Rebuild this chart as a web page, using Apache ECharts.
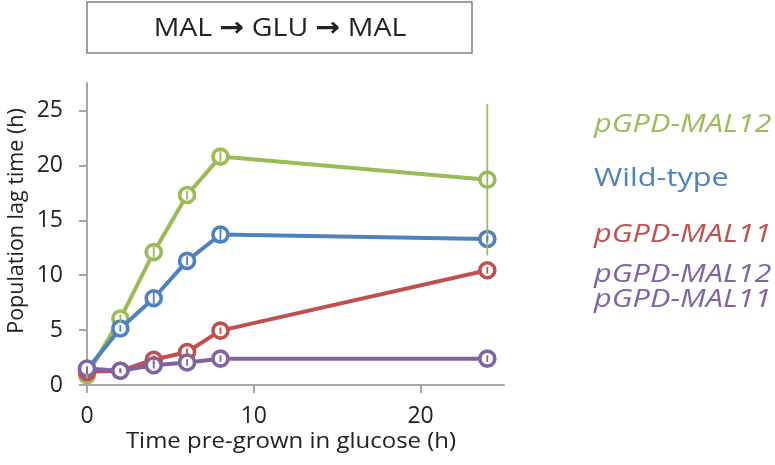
<!DOCTYPE html>
<html><head><meta charset="utf-8">
<script src="https://cdn.jsdelivr.net/npm/echarts@6/dist/echarts.min.js"></script>
<style>html,body{margin:0;padding:0;background:#fff}#c{width:775px;height:465px}</style>
</head><body><div id="c"></div>
<script>
const times = [0, 2, 4, 6, 8, 24];
const greenVals = [0.9, 6.05, 12.1, 17.3, 20.8, 18.7];
const greenErr = [0.3, 0.4, 0.5, 0.4, 0.5, 6.9];
const blueVals = [1.4, 5.15, 7.9, 11.3, 13.7, 13.3];
const blueErr = [0.2, 0.3, 0.6, 0.4, 0.6, 0.3];
const redVals = [1.2, 1.3, 2.3, 3.0, 4.95, 10.45];
const redErr = [0.2, 0.2, 0.4, 0.3, 0.3, 0.3];
const purpleVals = [1.5, 1.3, 1.8, 2.05, 2.4, 2.4];
const purpleErr = [0.2, 0.2, 0.3, 0.3, 0.3, 0.3];
const xTicks = [0, 10, 20];
const yTicks = [0, 5, 10, 15, 20, 25];
const seriesNames = ['pGPD-MAL12', 'Wild-type', 'pGPD-MAL11', 'pGPD-MAL12 pGPD-MAL11'];
const colors = ['#9BBB59', '#4F81BD', '#C0504D', '#8064A2'];
const allVals = [greenVals, blueVals, redVals, purpleVals];
const allErr = [greenErr, blueErr, redErr, purpleErr];

const FONT = 'Open Sans';
const chart = echarts.init(document.getElementById('c'), null, {renderer: 'canvas'});

const series = [];
allVals.forEach((vals, i) => {
  series.push({
    name: seriesNames[i], type: 'line', z: 3 + i,
    data: times.map((t, k) => [t, vals[k]]),
    lineStyle: {color: colors[i], width: 4},
    symbol: 'circle', symbolSize: 15,
    itemStyle: {color: '#fff', borderColor: colors[i], borderWidth: 3.6},
    emphasis: {disabled: true}, animation: false
  });
});
allVals.forEach((vals, i) => {
  series.push({
    name: seriesNames[i] + ' err', type: 'custom', z: 10 + i,
    data: times.map((t, k) => [t, vals[k] - allErr[i][k], vals[k] + allErr[i][k]]),
    renderItem: function (params, api) {
      const lo = api.coord([api.value(0), api.value(1)]);
      const hi = api.coord([api.value(0), api.value(2)]);
      return {type: 'line', shape: {x1: lo[0], y1: lo[1], x2: hi[0], y2: hi[1]},
        style: {stroke: colors[i], lineWidth: 1.8}};
    },
    animation: false, silent: true
  });
});

const axisCol = '#A6A6A6';
const labelStyle = (txt, x, y, col, italic) => ({
  type: 'text', x: x, y: y, scaleX: 1.18,
  style: {text: txt, font: (italic ? 'italic ' : '') + '26px "Open Sans"', fill: col, align: 'left', verticalAlign: 'middle'}
});
chart.setOption({
  animation: false,
  grid: {left: 87, right: 271, top: 83, bottom: 80},
  xAxis: {
    type: 'value', min: 0, max: 25,
    axisLine: {lineStyle: {color: axisCol, width: 2}},
    axisTick: {show: true, length: 8, lineStyle: {color: axisCol, width: 2}, customValues: xTicks},
    axisLabel: {customValues: xTicks, fontFamily: FONT, fontSize: 23, color: '#222', margin: 20},
    splitLine: {show: false}
  },
  yAxis: {
    type: 'value', min: 0, max: 27.5,
    axisLine: {show: true, lineStyle: {color: axisCol, width: 2}},
    axisTick: {show: true, length: 8, lineStyle: {color: axisCol, width: 2}, customValues: yTicks},
    axisLabel: {customValues: yTicks, fontFamily: FONT, fontSize: 23, color: '#222', margin: 24},
    splitLine: {show: false}
  },
  graphic: [
    {type: 'rect', shape: {x: 87, y: 2, width: 385, height: 51}, style: {fill: '#fff', stroke: '#7f7f7f', lineWidth: 1.5}},
    {type: 'text', x: 280, y: 29, scaleX: 1.14, style: {
      text: 'MAL {a|→} GLU {a|→} MAL',
      font: '25px "Open Sans"', fill: '#222', align: 'center', verticalAlign: 'middle',
      rich: {a: {font: 'bold 26px "DejaVu Sans"', fill: '#222'}}
    }},
    {type: 'text', x: 17, y: 221, rotation: Math.PI / 2, style: {text: 'Population lag time (h)', font: '21.5px "Open Sans"', fill: '#222', align: 'center', verticalAlign: 'middle'}},
    {type: 'text', x: 291, y: 442, scaleX: 1.09, style: {text: 'Time pre-grown in glucose (h)', font: '22px "Open Sans"', fill: '#222', align: 'center', verticalAlign: 'middle'}},
    labelStyle('pGPD-MAL12', 594, 125, colors[0], true),
    labelStyle('Wild-type', 594, 179, colors[1], false),
    labelStyle('pGPD-MAL11', 594, 235, colors[2], true),
    labelStyle('pGPD-MAL12', 594, 275, colors[3], true),
    labelStyle('pGPD-MAL11', 594, 300, colors[3], true)
  ],
  series: series
});
</script></body></html>
